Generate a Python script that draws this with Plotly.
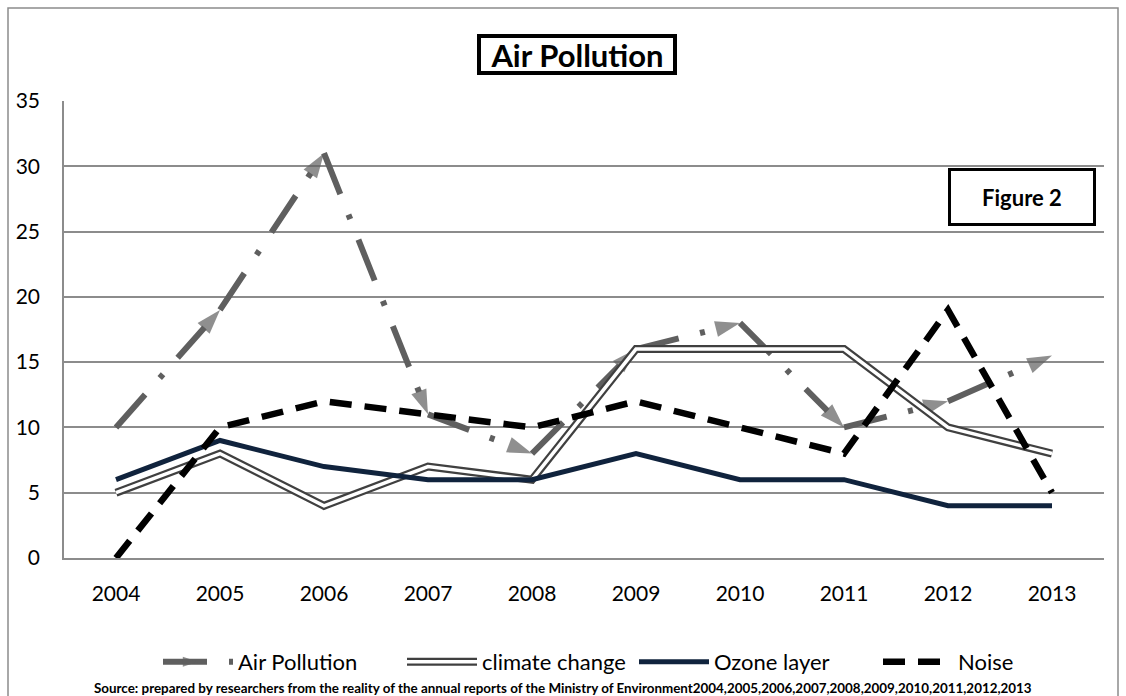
import plotly.graph_objects as go

years = ["2004", "2005", "2006", "2007", "2008", "2009", "2010", "2011", "2012", "2013"]
air_pollution = [10, 19, 31, 11, 8, 16, 18, 10, 12, 15.5]
climate_change = [5, 8, 4, 7, 6, 16, 16, 16, 10, 8]
ozone_layer = [6, 9, 7, 6, 6, 8, 6, 6, 4, 4]
noise = [0, 10, 12, 11, 10, 12, 10, 8, 19, 5]

FONT = "Lato"
W, H = 1126, 696
L, R, T, B = 64, 22, 101, 138
pw, ph = W - L - R, H - T - B


def px(x):
    # pixel -> paper x
    return (x - L) / pw


def py(y):
    # pixel -> paper y
    return (H - B - y) / ph


fig = go.Figure()

# Air pollution: dash-dot line with arrow heads
arrow_sizes = [0] + [26] * (len(years) - 1)
fig.add_trace(go.Scatter(
    x=years, y=air_pollution, name="Air Pollution", mode="lines+markers",
    line=dict(color="#5f5f5f", width=6, dash="44px,22px,5px,22px"),
    marker=dict(symbol="arrow", angleref="previous", size=arrow_sizes,
                color="#5f5f5f", line=dict(width=0)),
    legend="legend",
))

# climate change: double line (dark outer + white inner), legend too
fig.add_trace(go.Scatter(
    x=years, y=climate_change, name="climate change", mode="lines",
    line=dict(color="#404040", width=8), legend="legend2",
))
fig.add_trace(go.Scatter(
    x=years, y=climate_change, name="climate change", mode="lines",
    line=dict(color="white", width=3.5), legend="legend5", hoverinfo="skip",
))

fig.add_trace(go.Scatter(
    x=years, y=ozone_layer, name="Ozone layer", mode="lines",
    line=dict(color="#10233d", width=5), legend="legend3",
))

fig.add_trace(go.Scatter(
    x=years, y=noise, name="Noise", mode="lines",
    line=dict(color="black", width=6.5, dash="22px,13px"), legend="legend4",
))

fig.update_xaxes(
    range=[-0.5, len(years) - 0.5],
    showgrid=False, showline=True, linecolor="#8c8c8c", linewidth=1.5,
    ticks="", tickfont=dict(size=21, color="black"), ticklabelstandoff=16,
)
fig.update_yaxes(
    range=[0, 35], dtick=5, showgrid=True, gridcolor="#8c8c8c", gridwidth=1.5,
    showline=True, linecolor="#8c8c8c", linewidth=1.5, zeroline=False,
    ticks="", tickfont=dict(size=21, color="black"), ticklabelstandoff=18,
)


def legend_at(x, color="black"):
    return dict(orientation="h", x=px(x), xanchor="left", y=py(662),
                yanchor="middle", font=dict(size=22, color=color), itemwidth=70,
                bgcolor="rgba(0,0,0,0)")


fig.update_layout(
    width=W, height=H,
    margin=dict(l=L, r=R, t=T, b=B, autoexpand=False),
    paper_bgcolor="white", plot_bgcolor="white",
    font=dict(family=FONT, color="black"),
    showlegend=True,
    legend=legend_at(158),
    legend2=legend_at(402),
    legend3=legend_at(634),
    legend4=legend_at(878),
    legend5=legend_at(402, "rgba(0,0,0,0)"),
    shapes=[dict(type="rect", xref="paper", yref="paper",
                 x0=px(8), x1=px(1118), y0=py(700), y1=py(8),
                 line=dict(color="#8c8c8c", width=1.5), layer="below")],
    annotations=[
        dict(text="<b>Air Pollution</b>", xref="paper", yref="paper",
             x=px(577), y=py(54), xanchor="center", yanchor="middle",
             showarrow=False, font=dict(size=31),
             bordercolor="black", borderwidth=4, bgcolor="white",
             width=190, height=31),
        dict(text="<b>Figure 2</b>", xref="paper", yref="paper",
             x=px(1022), y=py(197), xanchor="center", yanchor="middle",
             showarrow=False, font=dict(size=22),
             bordercolor="black", borderwidth=3, bgcolor="white",
             width=140, height=50),
        dict(text="<b>Source: prepared by researchers from the reality of the annual reports "
                  "of the Ministry of Environment2004,2005,2006,2007,2008,2009,2010,2011,2012,2013</b>",
             xref="paper", yref="paper", x=px(563), y=py(688),
             xanchor="center", yanchor="middle",
             showarrow=False, font=dict(size=13.4)),
    ],
)

fig.write_html("out.html", config={"displayModeBar": False},
               post_script="document.body.style.margin='0';")
